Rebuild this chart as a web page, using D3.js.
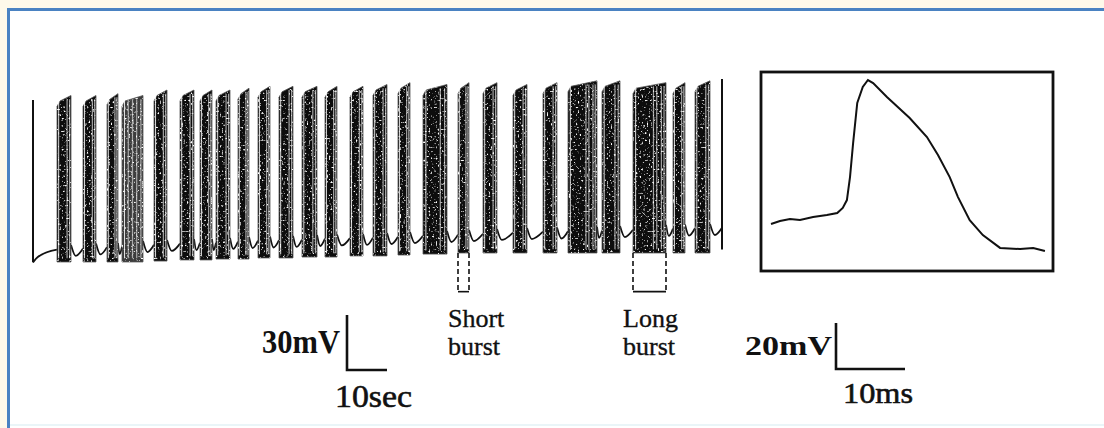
<!DOCTYPE html>
<meta charset="utf-8">
<style>
body { margin: 0; background: #fef9ea; }
text { font-family: "Liberation Serif", "DejaVu Serif", serif; fill: #111; }
</style>
<body>
<svg id="fig" width="1104" height="428"></svg>
<script src="https://d3js.org/d3.v7.min.js"></script>
<script>

// burst onsets / offsets (sec), peak and floor (mV)
var burstOn  = [6.0, 12.5, 18.5, 22.25, 30.25, 36.75, 41.75, 45.75, 51.25, 56.25, 61.5, 67.25, 73.0,
                79.25, 85.0, 91.25, 97.5, 106.25, 112.5, 120.0, 127.5, 133.75, 142.25, 150.0, 160.0, 165.5];
var burstOff = [9.5, 15.75, 21.25, 27.5, 33.5, 40.25, 44.75, 49.25, 54.0, 59.25, 65.0, 71.0, 76.0,
                82.5, 88.5, 94.25, 103.5, 109.0, 116.0, 123.5, 131.0, 141.0, 146.75, 158.25, 163.0, 169.25];
var burstPeak = [27, 27, 28, 27, 30, 30, 30, 30, 31, 32, 32, 32, 32,
                 32, 33, 34, 33, 34, 34, 33, 34, 35, 35, 34, 34, 35];
var burstFloor = [-63.8, -63.8, -63.8, -63.8, -63.3, -62.7, -62.7, -62.2, -62.2, -61.6, -61.6, -61.1, -61.1,
                  -60.5, -60.5, -60, -59.5, -58.9, -58.9, -58.9, -58.9, -58.9, -58.9, -58.9, -58.9, -58.9];

// isolated spikes at both ends
var spikeT = [0, 172.25];
var spikePeak = [24.5, 36];
var spikeFloor = [-64, -57];

// interburst trough (mV), one per gap
var troughV = [-61.1, -60.5, -59.7, -59.5, -58.4, -57.8, -57.3, -57.3, -56.7, -56.2, -55.9, -55.6, -55.1, -54.8,
               -54.5, -54.0, -53.5, -52.9, -52.4, -51.8, -51.3, -51.0, -50.7, -50.2, -49.6, -49.4, -49.1];

// inset: single action potential (ms, mV)
var apT = [0, 1.3, 2.75, 4.2, 6.1, 8.1, 9.6, 10.4, 11.0, 11.45, 11.9, 12.5, 13.3, 14.05, 14.8, 16.8,
           20.1, 22.6, 24.2, 25.9, 27.1, 28.8, 30.7, 33.2, 36.1, 38.0, 39.7];
var apV = [-60, -58.7, -57.8, -58.3, -57.0, -56.1, -55.2, -53.0, -49.6, -39.6, -24.8, -7.4, -0.4, 2.6, 1.3, -4.8,
           -13.9, -22.2, -30.0, -39.6, -48.3, -58.3, -64.8, -70.4, -70.9, -70.4, -71.7];

var shortIdx = 17, longIdx = 23;

var svg = d3.select("#fig");

// page frame
svg.append("rect").attr("width", 1104).attr("height", 428).attr("fill", "#fef9ea");
svg.append("rect").attr("x", 8.5).attr("y", 9.5).attr("width", 1110).attr("height", 430)
    .attr("fill", "#fff").attr("stroke", "#4a82c2").attr("stroke-width", 3);
svg.append("line").attr("x1", 10).attr("x2", 1104).attr("y1", 425).attr("y2", 425)
    .attr("stroke", "#eaf5f8").attr("stroke-width", 2);

var defs = svg.append("defs");
var f = defs.append("filter").attr("id", "speck").attr("x", 0).attr("y", 0).attr("width", 1).attr("height", 1);
f.append("feTurbulence").attr("type", "fractalNoise").attr("baseFrequency", 0.55).attr("numOctaves", 1).attr("seed", 4).attr("result", "n");
f.append("feColorMatrix").attr("in", "n").attr("type", "matrix")
    .attr("values", "0 0 0 0 1  0 0 0 0 1  0 0 0 0 1  6 0 0 0 -3.5").attr("result", "dots");
f.append("feComposite").attr("in", "dots").attr("in2", "SourceGraphic").attr("operator", "in");

var x = d3.scaleLinear().domain([0, 10]).range([33, 73]);
var y = d3.scaleLinear().domain([-60, 30]).range([255, 90]);

var events = [{on: spikeT[0], off: spikeT[0], peak: spikePeak[0], floor: spikeFloor[0]}]
  .concat(burstOn.map(function(on, i) {
    return {on: on, off: burstOff[i], peak: burstPeak[i], floor: burstFloor[i], burst: true};
  }))
  .concat([{on: spikeT[1], off: spikeT[1], peak: spikePeak[1], floor: spikeFloor[1]}]);

var g = svg.append("g");
var line = d3.line().x(function(d) { return x(d[0]); }).y(function(d) { return y(d[1]); }).curve(d3.curveMonotoneX);

// interburst membrane potential
for (var i = 0; i < events.length - 1; i++) {
  var a = events[i].off, b = events[i + 1].on, v = troughV[i], gap = b - a;
  var pts = [[a, i === 0 ? events[0].floor : v + 6], [a + Math.min(1.2, gap * 0.4), v], [b, v + 4]];
  g.append("path").attr("d", line(pts)).attr("fill", "none")
    .attr("stroke", "#111").attr("stroke-width", 1.8);
}

// isolated spikes
events.filter(function(e) { return !e.burst; }).forEach(function(e) {
  g.append("line").attr("x1", x(e.on)).attr("x2", x(e.on))
    .attr("y1", y(e.floor)).attr("y2", y(e.peak))
    .attr("stroke", "#111").attr("stroke-width", 2);
});

// bursts as dense blocks of spikes
var bursts = events.filter(function(e) { return e.burst; });
function blockPts(e) {
  return [[x(e.on), y(e.floor)], [x(e.on), y(e.peak - 6)], [x(e.on) + 3, y(e.peak - 3)],
          [x(e.off), y(e.peak)], [x(e.off), y(e.floor)]];
}
var poly = function(p) { return "M" + p.join("L") + "Z"; };

g.selectAll(".blk").data(bursts).enter().append("path")
  .attr("class", "blk")
  .attr("d", function(e) { return poly(blockPts(e)); })
  .attr("fill", function(e, i) { return i === 3 ? "#3c3c3c" : "#0d0d0d"; })
  .attr("stroke", "#555").attr("stroke-width", 0.8);

// lighter streaks inside bursts
bursts.forEach(function(e, i) {
  var w = x(e.off) - x(e.on);
  var fr = [0.12, 0.72, 0.9];
  if (i === 3) fr = [0.12, 0.3, 0.5, 0.7, 0.9];
  if (w > 25) fr = [0.08, 0.62, 0.72, 0.86, 0.94];
  fr.forEach(function(p, k) {
    var xx = x(e.on) + w * p;
    g.append("line").attr("x1", xx).attr("x2", xx)
      .attr("y1", y(e.peak - 2)).attr("y2", y(e.floor + 2))
      .attr("stroke", k === 0 ? "#fff" : "#bdbdbd").attr("stroke-width", k === 0 ? 1 : 1.2)
      .attr("opacity", 0.85);
  });
});

g.selectAll(".spk").data(bursts).enter().append("path")
  .attr("class", "spk")
  .attr("d", function(e) { return poly(blockPts(e)); })
  .attr("fill", "#fff")
  .attr("filter", "url(#speck)");

// dashed markers under short and long burst
[shortIdx, longIdx].forEach(function(k) {
  var e = bursts[k], x0 = x(e.on), x1 = x(e.off), y0 = y(e.floor), y1 = y(-80);
  g.append("path").attr("d", "M" + x0 + "," + y0 + "V" + y1 + "M" + x1 + "," + y0 + "V" + y1)
    .attr("stroke", "#111").attr("stroke-width", 1.6).attr("stroke-dasharray", "5,3").attr("fill", "none");
  g.append("line").attr("x1", x0).attr("x2", x1).attr("y1", y1).attr("y2", y1)
    .attr("stroke", "#111").attr("stroke-width", 1.6);
});

var lab = function(tx, ty, s) {
  g.append("text").attr("x", tx).attr("y", ty).attr("font-size", 26)
    .attr("stroke", "#111").attr("stroke-width", 0.35).text(s);
};
lab(448, 327, "Short"); lab(448, 355, "burst");
lab(623, 327, "Long"); lab(623, 355, "burst");

// left scale bar: 30 mV, 10 sec
var sbx = 347, sby = 370;
g.append("path")
  .attr("d", "M" + sbx + "," + (sby - (y(0) - y(30))) + "V" + sby + "H" + (sbx + x(10) - x(0)))
  .attr("fill", "none").attr("stroke", "#111").attr("stroke-width", 2.6);
g.append("text").attr("x", 262).attr("y", 353).attr("font-size", 34).attr("font-weight", "bold")
  .attr("textLength", 78).attr("lengthAdjust", "spacingAndGlyphs").text("30mV");
g.append("text").attr("x", 335).attr("y", 407).attr("font-size", 32)
  .attr("stroke", "#111").attr("stroke-width", 0.6)
  .attr("textLength", 77).attr("lengthAdjust", "spacingAndGlyphs").text("10sec");

// inset with single action potential
var xi = d3.scaleLinear().domain([0, 10]).range([771, 840]);
var yi = d3.scaleLinear().domain([-60, -40]).range([224, 178]);
var ins = svg.append("g");
ins.append("rect").attr("x", 761).attr("y", 72).attr("width", 292).attr("height", 199)
  .attr("fill", "none").attr("stroke", "#111").attr("stroke-width", 2.8);
ins.append("path")
  .attr("d", d3.line().x(function(d, i) { return xi(apT[i]); }).y(function(d) { return yi(d); })(apV))
  .attr("fill", "none").attr("stroke", "#111").attr("stroke-width", 2);

var rbx = 836, rby = 369;
ins.append("path")
  .attr("d", "M" + rbx + "," + (rby - (yi(-60) - yi(-40))) + "V" + rby + "H" + (rbx + xi(10) - xi(0)))
  .attr("fill", "none").attr("stroke", "#111").attr("stroke-width", 2.6);
ins.append("text").attr("x", 745).attr("y", 355).attr("font-size", 27).attr("font-weight", "bold")
  .attr("textLength", 87).attr("lengthAdjust", "spacingAndGlyphs").text("20mV");
ins.append("text").attr("x", 843).attr("y", 403).attr("font-size", 30)
  .attr("stroke", "#111").attr("stroke-width", 0.6)
  .attr("textLength", 70).attr("lengthAdjust", "spacingAndGlyphs").text("10ms");

</script>
</body>
